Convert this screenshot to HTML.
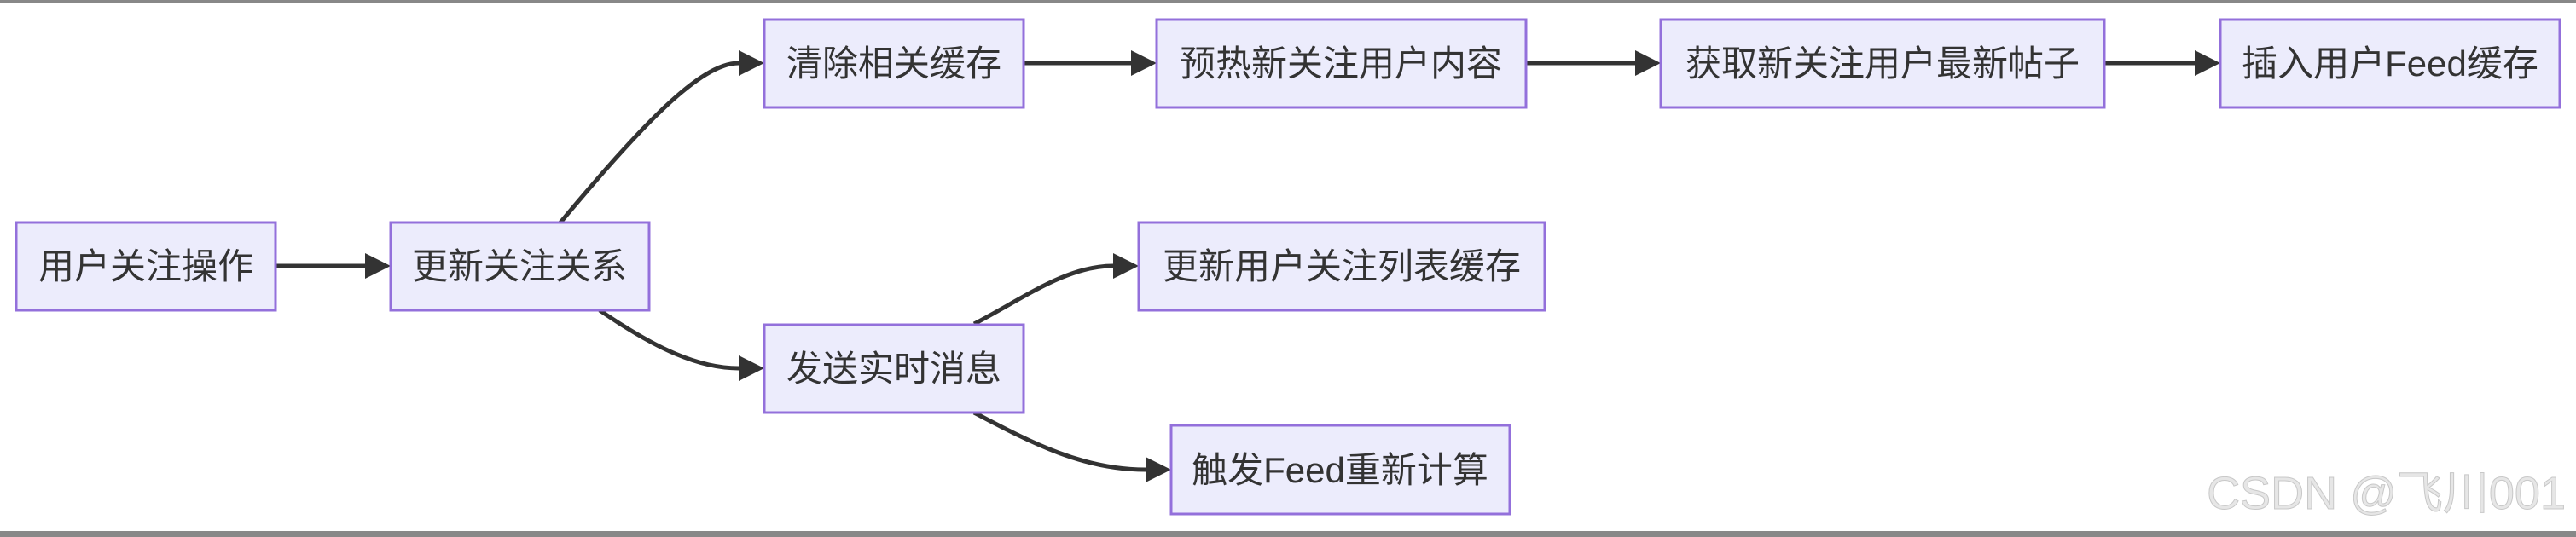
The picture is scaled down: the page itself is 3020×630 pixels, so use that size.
<!DOCTYPE html>
<html><head><meta charset="utf-8"><style>
html,body{margin:0;padding:0;background:#fff;}
svg{display:block;}
text{font-family:"Liberation Sans","Noto Sans CJK SC",sans-serif;}
</style></head><body>
<svg width="3020" height="630" viewBox="0 0 3020 630" xmlns="http://www.w3.org/2000/svg">
<rect x="0" y="0" width="3020" height="3" fill="#888"/>
<rect x="0" y="623" width="3020" height="7" fill="#888"/>
<defs>
<marker id="ah" markerWidth="10" markerHeight="10" refX="9" refY="5" orient="auto" markerUnits="userSpaceOnUse" viewBox="0 0 10 10">
<path d="M0,0 L10,5 L0,10 z" fill="#333"/>
</marker>
</defs>
<g fill="none" stroke="#333" stroke-width="5">
<line x1="323" y1="312" x2="428" y2="312"/>
<path d="M657,261 C750,150 820,74 866,74"/>
<path d="M703,364 C770,410 820,432 866,432"/>
<line x1="1200" y1="74" x2="1326" y2="74"/>
<line x1="1789" y1="74" x2="1917" y2="74"/>
<line x1="2467" y1="74" x2="2573" y2="74"/>
<path d="M1142,380 C1200,350 1250,312 1305,312"/>
<path d="M1142,484 C1210,520 1270,551 1343,551"/>
</g>
<g fill="#333">
<path d="M428,297 L458,312 L428,327 z"/>
<path d="M866,59 L896,74 L866,89 z"/>
<path d="M866,417 L896,432 L866,447 z"/>
<path d="M1326,59 L1356,74 L1326,89 z"/>
<path d="M1917,59 L1947,74 L1917,89 z"/>
<path d="M2573,59 L2603,74 L2573,89 z"/>
<path d="M1305,297 L1335,312 L1305,327 z"/>
<path d="M1343,536 L1373,551 L1343,566 z"/>
</g>
<g fill="#ececfc" stroke="#9370db" stroke-width="3">
<rect x="19" y="261" width="304" height="103"/>
<rect x="458" y="261" width="303" height="103"/>
<rect x="896" y="23" width="304" height="103"/>
<rect x="896" y="381" width="304" height="103"/>
<rect x="1356" y="23" width="433" height="103"/>
<rect x="1947" y="23" width="520" height="103"/>
<rect x="2603" y="23" width="398" height="103"/>
<rect x="1335" y="261" width="476" height="103"/>
<rect x="1373" y="499" width="397" height="104"/>
</g>
<g fill="#333" font-size="42" text-anchor="middle">
<text x="171" y="327">用户关注操作</text>
<text x="609" y="327">更新关注关系</text>
<text x="1048" y="89">清除相关缓存</text>
<text x="1048" y="447">发送实时消息</text>
<text x="1572" y="89">预热新关注用户内容</text>
<text x="2207" y="89">获取新关注用户最新帖子</text>
<text x="2802" y="89">插入用户Feed缓存</text>
<text x="1573" y="327">更新用户关注列表缓存</text>
<text x="1571" y="566">触发Feed重新计算</text>
</g>
<text x="3008" y="597" text-anchor="end" font-size="54" fill="#e6e6e6" stroke="#c8c8c8" stroke-width="1">CSDN @飞川001</text>
</svg>
</body></html>
